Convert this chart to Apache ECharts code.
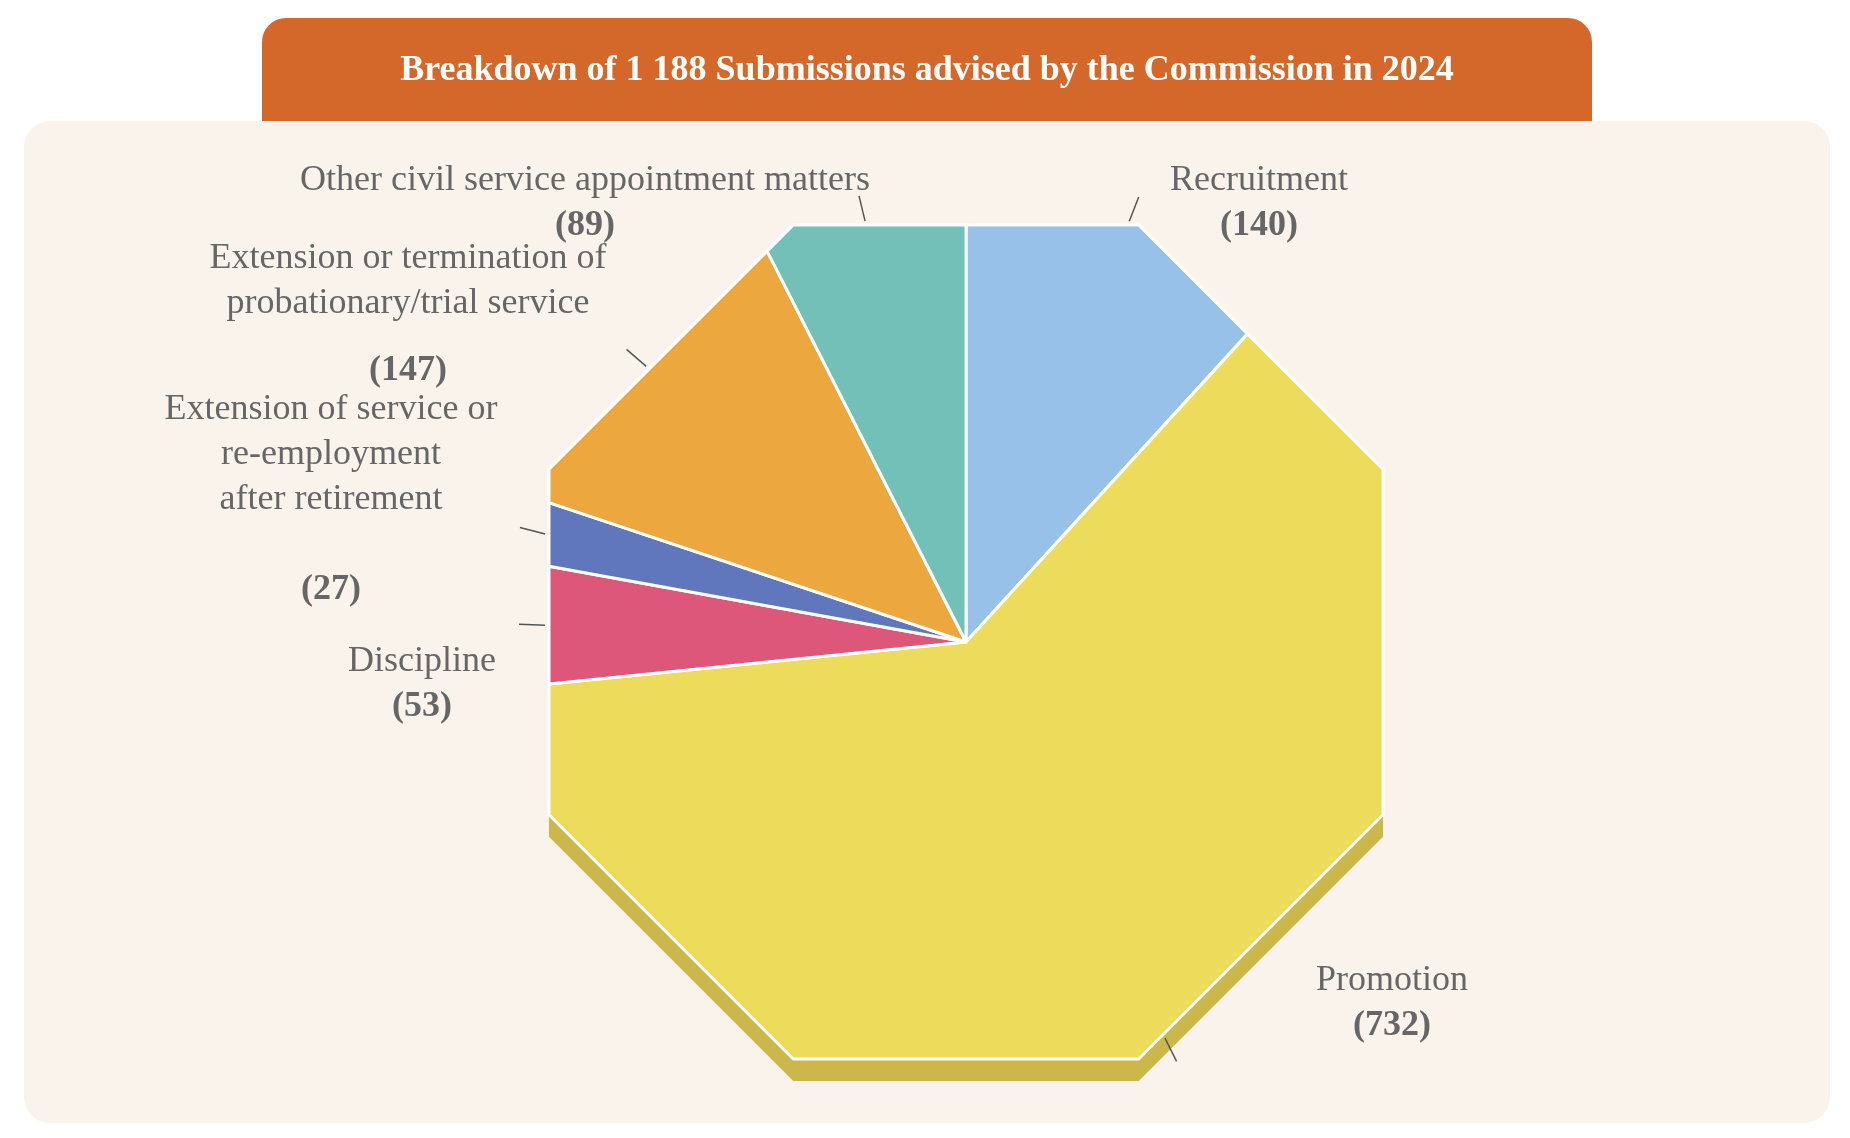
<!DOCTYPE html>
<html>
<head>
<meta charset="utf-8">
<script src="https://cdn.jsdelivr.net/npm/echarts@6/dist/echarts.min.js"></script>
<style>html,body{margin:0;padding:0;background:#fff}#chart{width:1850px;height:1138px}</style>
</head>
<body>
<div id="chart"></div>
<script>
// data
const categories = ['Recruitment', 'Promotion', 'Discipline',
  'Extension of service or\nre-employment\nafter retirement',
  'Extension or termination of\nprobationary/trial service',
  'Other civil service appointment matters'];
const values = [140, 732, 53, 27, 147, 89];
const colors = ['#97c1e8', '#eddc5c', '#dc5779', '#6177bd', '#eca83f', '#72c0b8'];
// label anchors (x, y of first line)
const labelPos = [[1259, 181], [1392, 981], [422, 662], [331, 455], [408, 281], [585, 181]];

const total = values.reduce((a, b) => a + b, 0);
const cx = 966, cy = 642, apo = 417;
const serif = '"Liberation Serif", "DejaVu Serif", serif';

function radiusAt(deg) {
  const n = Math.round(deg / 45) * 45;
  return apo / Math.cos((deg - n) * Math.PI / 180);
}
function pt(deg, r, dy) {
  const a = deg * Math.PI / 180;
  return [cx + r * Math.sin(a), cy - r * Math.cos(a) + (dy || 0)];
}
function slicePoints(a0, a1) {
  const pts = [[cx, cy], pt(a0, radiusAt(a0))];
  let v = Math.ceil((a0 - 22.5) / 45) * 45 + 22.5;
  if (v <= a0) v += 45;
  for (; v < a1; v += 45) pts.push(pt(v, radiusAt(v)));
  pts.push(pt(a1, radiusAt(a1)));
  return pts;
}

const chart = echarts.init(document.getElementById('chart'));

const graphics = [
  { type: 'rect', shape: { x: 24, y: 121, width: 1806, height: 1002, r: 26 }, style: { fill: '#faf3ec' }, z: 0 },
  { type: 'rect', shape: { x: 262, y: 18, width: 1330, height: 103, r: [24, 24, 0, 0] }, style: { fill: '#d4682b' }, z: 1 },
  { type: 'text', x: 927, y: 71, style: { text: 'Breakdown of 1 188 Submissions advised by the Commission in 2024',
      font: 'bold 36px ' + serif, fill: '#fff', align: 'center', verticalAlign: 'middle' }, z: 2 }
];
categories.forEach((c, i) => {
  const lines = c.split('\n');
  const [x, y] = labelPos[i];
  graphics.push({ type: 'text', x: x, y: y, z: 3,
    style: { text: c, font: '36px ' + serif, fill: '#666', align: 'center', verticalAlign: 'middle', lineHeight: 45 } });
  graphics.push({ type: 'text', x: x, y: y + lines.length * 45 - (lines.length > 1 ? 0 : 0), z: 3,
    style: { text: '(' + values[i] + ')', font: 'bold 36px ' + serif, fill: '#666', align: 'center', verticalAlign: 'middle' } });
});

chart.setOption({
  animation: false,
  graphic: graphics,
  xAxis: { show: false }, yAxis: { show: false },
  series: [
    {
      type: 'custom', coordinateSystem: 'none', data: [0], z: 1,
      renderItem: () => {
        const pts = [];
        for (let k = 0; k < 8; k++) pts.push(pt(22.5 + 45 * k, apo / Math.cos(Math.PI / 8), 22));
        return { type: 'polygon', shape: { points: pts }, style: { fill: '#cbb74a' } };
      }
    },
    {
      type: 'custom', coordinateSystem: 'none', data: values, z: 2,
      renderItem: (params) => {
        const i = params.dataIndex;
        let before = 0;
        for (let k = 0; k < i; k++) before += values[k];
        const a0 = before / total * 360, a1 = (before + values[i]) / total * 360;
        const mid = (a0 + a1) / 2;
        const rb = radiusAt(mid);
        return { type: 'group', children: [
          { type: 'polygon', shape: { points: slicePoints(a0, a1) },
            style: { fill: colors[i], stroke: '#fff', lineWidth: 3, lineJoin: 'round' } },
          { type: 'line', shape: { x1: pt(mid, rb + 4)[0], y1: pt(mid, rb + 4)[1], x2: pt(mid, rb + 30)[0], y2: pt(mid, rb + 30)[1] },
            style: { stroke: '#555', lineWidth: 1.5 } }
        ] };
      }
    }
  ]
});
</script>
</body>
</html>
